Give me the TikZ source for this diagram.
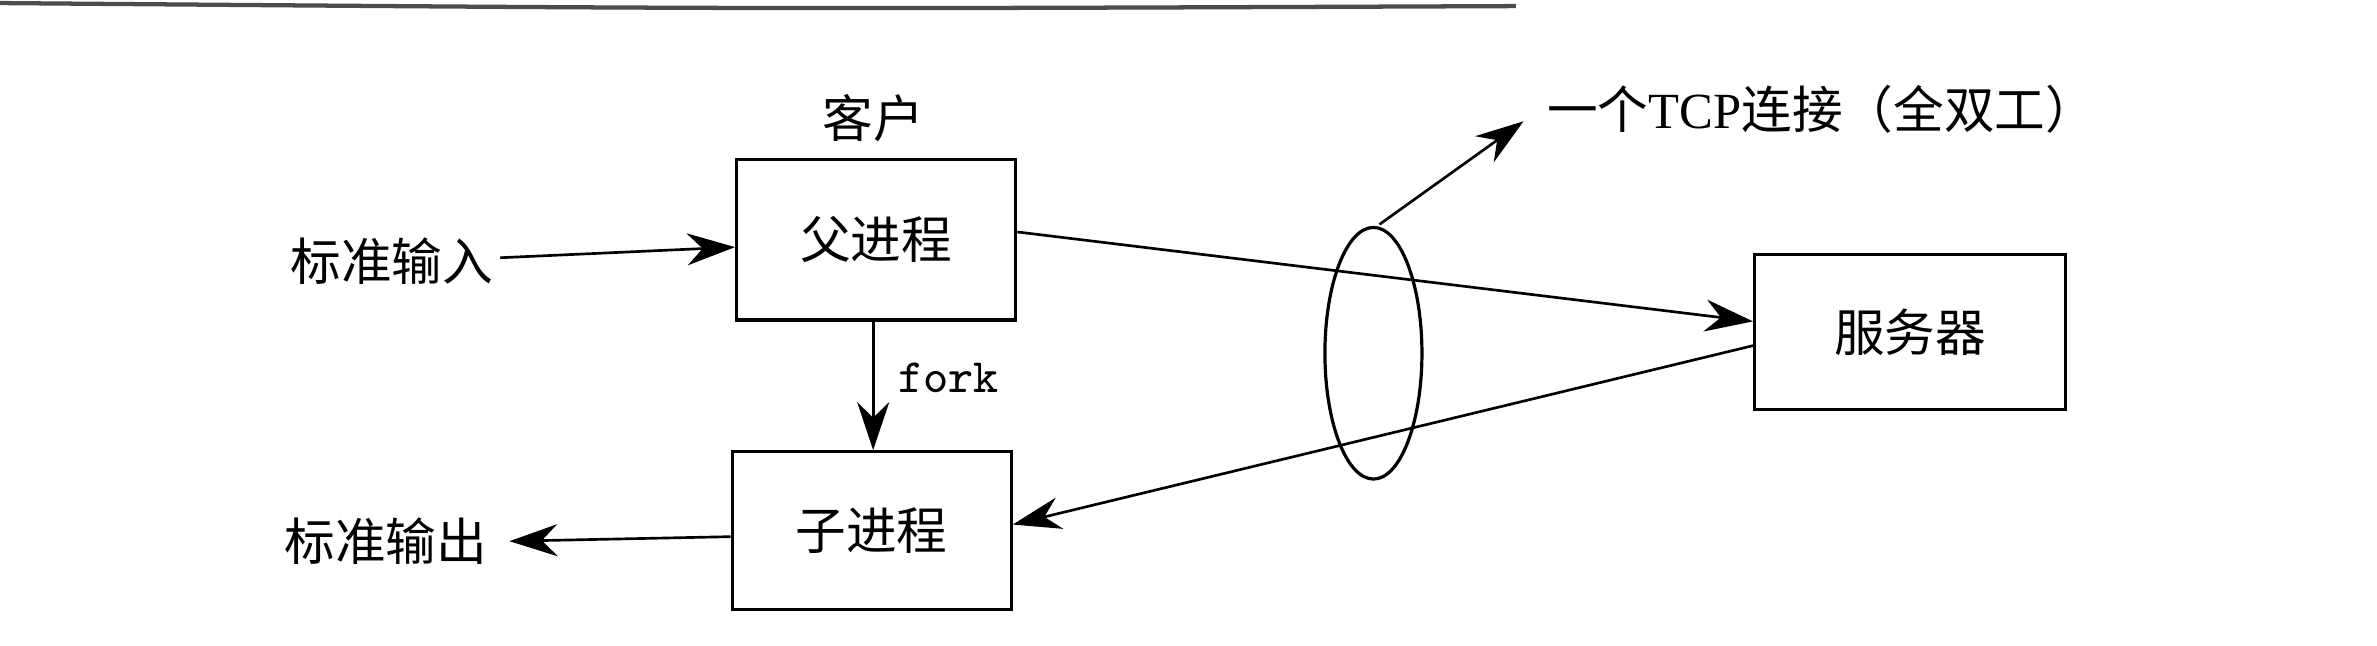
\documentclass[tikz,border=0pt]{standalone}
\usepackage{fontspec}
\setmainfont{Liberation Serif}
\newfontfamily\cjk{Noto Sans CJK SC}
\usetikzlibrary{arrows.meta}
\begin{document}
\begin{tikzpicture}[x=0.01cm,y=-0.01cm,
  box/.style={draw,line width=0.6pt,font=\cjk\fontsize{9.5}{11}\selectfont},
  lbl/.style={font=\cjk\fontsize{9.5}{11}\selectfont,inner sep=0pt},
  arr/.style={line width=0.5pt,-{Stealth[length=9pt,width=6pt]}}]
\useasboundingbox[fill=white] (0,0) rectangle (1568,426);
\draw[black!70,line width=0.8pt] (0,2) .. controls (500,6) .. (1000,4);
\node[box,minimum width=1.84cm,minimum height=1.06cm] (p) at (578,158) {父进程};
\node[box,minimum width=1.84cm,minimum height=1.04cm] (c) at (575,350) {子进程};
\node[box,minimum width=2.05cm,minimum height=1.02cm] (s) at (1260,219) {服务器};
\node[lbl] (kh) at (576,78) {客户};
\node[lbl,anchor=east] (in) at (326,172) {标准输入};
\node[lbl,anchor=east] (out) at (322,357) {标准输出};
\node[font=\ttfamily\fontsize{9}{11}\selectfont,anchor=west] (fk) at (580,249) {fork};
\draw[line width=0.6pt] (906,233) ellipse [x radius=32, y radius=83];
\coordinate (et) at (910,148);
\node[lbl,anchor=west] (tcp) at (1020,72) {一个\fontspec{Liberation Serif}TCP\cjk 连接（全双工）};
\draw[arr] (in.east)++(4,-2) -- (p.west|-0,163);
\draw[arr] (c.west|-0,354) -- ([xshift=4pt]out.east);
\draw[arr] (p.south-|576,0) -- (c.north-|576,0);
\draw[arr] (p.east|-0,153) -- (s.west|-0,212);
\draw[arr] (s.west|-0,228) -- (c.east|-0,346);
\draw[arr] (et) -- (1005,80);
\end{tikzpicture}
\end{document}
